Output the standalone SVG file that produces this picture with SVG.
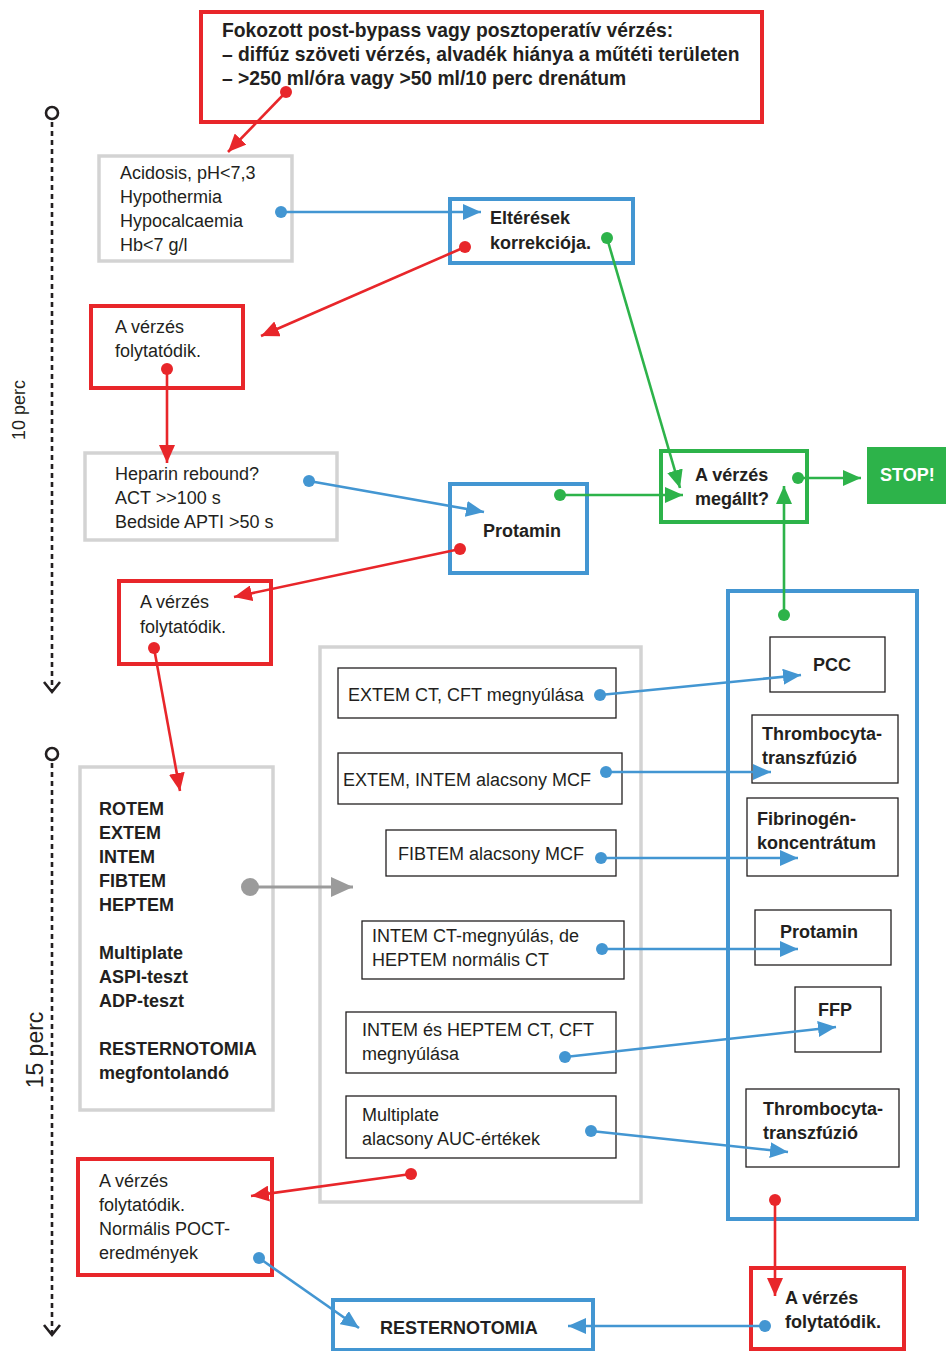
<svg xmlns="http://www.w3.org/2000/svg" width="946" height="1351" viewBox="0 0 946 1351">
<style>
text{font-family:"Liberation Sans",Arial,sans-serif;fill:#231f20;font-size:18px}
.b{font-weight:bold}
.top{font-size:19.3px}
.red{fill:#fff;stroke:#e8262a;stroke-width:4}
.blue{fill:#fff;stroke:#4396d2;stroke-width:4}
.green{fill:#fff;stroke:#2db34a;stroke-width:4}
.grey{fill:#fff;stroke:#d3d3d3;stroke-width:3.5}
.thin{fill:#fff;stroke:#231f20;stroke-width:1.3}
.cr{stroke:#e8262a;stroke-width:2.6;fill:none;marker-start:url(#dr);marker-end:url(#ar)}
.cb{stroke:#4396d2;stroke-width:2.6;fill:none;marker-start:url(#db);marker-end:url(#ab)}
.cg{stroke:#2db34a;stroke-width:2.6;fill:none;marker-start:url(#dg);marker-end:url(#ag)}
.cgr{stroke:#9b9b9b;stroke-width:3;fill:none;marker-start:url(#dgr);marker-end:url(#agr)}
.tl{stroke:#231f20;stroke-width:2.6;stroke-dasharray:5 4;fill:none}
</style>
<defs>
<marker id="ar" markerUnits="userSpaceOnUse" markerWidth="20" markerHeight="16" refX="18" refY="8" orient="auto"><path d="M0,0 L18,8 L0,16 Z" fill="#e8262a"/></marker>
<marker id="ab" markerUnits="userSpaceOnUse" markerWidth="20" markerHeight="16" refX="18" refY="8" orient="auto"><path d="M0,0 L18,8 L0,16 Z" fill="#4396d2"/></marker>
<marker id="ag" markerUnits="userSpaceOnUse" markerWidth="20" markerHeight="16" refX="18" refY="8" orient="auto"><path d="M0,0 L18,8 L0,16 Z" fill="#2db34a"/></marker>
<marker id="agr" markerUnits="userSpaceOnUse" markerWidth="24" markerHeight="20" refX="22" refY="10" orient="auto"><path d="M0,0 L22,10 L0,20 Z" fill="#9b9b9b"/></marker>
<marker id="dr" markerUnits="userSpaceOnUse" markerWidth="14" markerHeight="14" refX="7" refY="7"><circle cx="7" cy="7" r="6" fill="#e8262a"/></marker>
<marker id="db" markerUnits="userSpaceOnUse" markerWidth="14" markerHeight="14" refX="7" refY="7"><circle cx="7" cy="7" r="6" fill="#4396d2"/></marker>
<marker id="dg" markerUnits="userSpaceOnUse" markerWidth="14" markerHeight="14" refX="7" refY="7"><circle cx="7" cy="7" r="6" fill="#2db34a"/></marker>
<marker id="dgr" markerUnits="userSpaceOnUse" markerWidth="20" markerHeight="20" refX="10" refY="10"><circle cx="10" cy="10" r="9" fill="#9b9b9b"/></marker>
</defs>

<g id="timeline">
<circle cx="52" cy="113" r="6" fill="#fff" stroke="#231f20" stroke-width="2.6"/>
<line class="tl" x1="52" y1="122" x2="52" y2="690"/>
<path d="M44,682 L52,692 L60,682" fill="none" stroke="#231f20" stroke-width="2.6"/>
<text transform="translate(25,410) rotate(-90)" text-anchor="middle">10 perc</text>
<circle cx="52" cy="754" r="6" fill="#fff" stroke="#231f20" stroke-width="2.6"/>
<line class="tl" x1="52" y1="763" x2="52" y2="1333"/>
<path d="M44,1325 L52,1335 L60,1325" fill="none" stroke="#231f20" stroke-width="2.6"/>
<text transform="translate(43,1050) rotate(-90)" text-anchor="middle" style="font-size:23px">15 perc</text>
</g>

<g id="n-top"><rect class="red" x="201" y="12" width="561" height="110"/>
<text class="b top" x="222" y="37">Fokozott post-bypass vagy posztoperatív vérzés:</text>
<text class="b top" x="222" y="61">– diffúz szöveti vérzés, alvadék hiánya a műtéti területen</text>
<text class="b top" x="222" y="85">– &gt;250 ml/óra vagy &gt;50 ml/10 perc drenátum</text></g>

<g id="n-acid"><rect class="grey" x="99" y="156" width="193" height="105"/>
<text x="120" y="179">Acidosis, pH&lt;7,3</text><text x="120" y="203">Hypothermia</text><text x="120" y="227">Hypocalcaemia</text><text x="120" y="251">Hb&lt;7 g/l</text></g>

<g id="n-elt"><rect class="blue" x="450" y="199" width="183" height="64"/>
<text class="b" x="490" y="224">Eltérések</text><text class="b" x="490" y="249">korrekciója.</text></g>

<g id="n-fol1"><rect class="red" x="91" y="306" width="152" height="82"/>
<text x="115" y="333">A vérzés</text><text x="115" y="357">folytatódik.</text></g>

<g id="n-hep"><rect class="grey" x="85" y="453" width="252" height="87"/>
<text x="115" y="480">Heparin rebound?</text><text x="115" y="504">ACT &gt;&gt;100 s</text><text x="115" y="528">Bedside APTI &gt;50 s</text></g>

<g id="n-prot"><rect class="blue" x="450" y="484" width="137" height="89"/>
<text class="b" x="483" y="537">Protamin</text></g>

<g id="n-meg"><rect class="green" x="661" y="451" width="146" height="71"/>
<text class="b" x="695" y="481">A vérzés</text><text class="b" x="695" y="505">megállt?</text></g>

<g id="n-stop"><rect x="867" y="447" width="79" height="57" fill="#2db34a"/>
<text class="b" x="880" y="481" style="fill:#fff">STOP!</text></g>

<g id="n-fol2"><rect class="red" x="119" y="581" width="152" height="83"/>
<text x="140" y="608">A vérzés</text><text x="140" y="633">folytatódik.</text></g>

<g id="n-rotem"><rect class="grey" x="80" y="767" width="193" height="343"/>
<text class="b" x="99" y="815">ROTEM</text><text class="b" x="99" y="839">EXTEM</text><text class="b" x="99" y="863">INTEM</text><text class="b" x="99" y="887">FIBTEM</text><text class="b" x="99" y="911">HEPTEM</text>
<text class="b" x="99" y="959">Multiplate</text><text class="b" x="99" y="983">ASPI-teszt</text><text class="b" x="99" y="1007">ADP-teszt</text>
<text class="b" x="99" y="1055">RESTERNOTOMIA</text><text class="b" x="99" y="1079">megfontolandó</text></g>

<g id="n-mid"><rect class="grey" x="320" y="647" width="321" height="555"/>
<rect class="thin" x="338" y="668" width="278" height="50"/><text x="348" y="701">EXTEM CT, CFT megnyúlása</text>
<rect class="thin" x="338" y="753" width="284" height="51"/><text x="343" y="786">EXTEM, INTEM alacsony MCF</text>
<rect class="thin" x="386" y="830" width="230" height="46"/><text x="398" y="860">FIBTEM alacsony MCF</text>
<rect class="thin" x="362" y="921" width="262" height="58"/><text x="372" y="942">INTEM CT-megnyúlás, de</text><text x="372" y="966">HEPTEM normális CT</text>
<rect class="thin" x="346" y="1012" width="270" height="61"/><text x="362" y="1036">INTEM és HEPTEM CT, CFT</text><text x="362" y="1060">megnyúlása</text>
<rect class="thin" x="346" y="1096" width="270" height="62"/><text x="362" y="1121">Multiplate</text><text x="362" y="1145">alacsony AUC-értékek</text></g>

<g id="n-right"><rect class="blue" x="728" y="591" width="189" height="628"/>
<rect class="thin" x="770" y="637" width="115" height="55"/><text class="b" x="813" y="671">PCC</text>
<rect class="thin" x="752" y="715" width="146" height="68"/><text class="b" x="762" y="740">Thrombocyta-</text><text class="b" x="762" y="764">transzfúzió</text>
<rect class="thin" x="747" y="798" width="151" height="78"/><text class="b" x="757" y="825">Fibrinogén-</text><text class="b" x="757" y="849">koncentrátum</text>
<rect class="thin" x="755" y="910" width="136" height="55"/><text class="b" x="780" y="938">Protamin</text>
<rect class="thin" x="795" y="987" width="86" height="65"/><text class="b" x="818" y="1016">FFP</text>
<rect class="thin" x="746" y="1089" width="153" height="78"/><text class="b" x="763" y="1115">Thrombocyta-</text><text class="b" x="763" y="1139">transzfúzió</text></g>

<g id="n-fol3"><rect class="red" x="78" y="1159" width="194" height="116"/>
<text x="99" y="1187">A vérzés</text><text x="99" y="1211">folytatódik.</text><text x="99" y="1235">Normális POCT-</text><text x="99" y="1259">eredmények</text></g>

<g id="n-fol4"><rect class="red" x="751" y="1268" width="153" height="81"/>
<text class="b" x="785" y="1304">A vérzés</text><text class="b" x="785" y="1328">folytatódik.</text></g>

<g id="n-rest"><rect class="blue" x="333" y="1300" width="260" height="50"/>
<text class="b" x="380" y="1334">RESTERNOTOMIA</text></g>

<g id="connectors">
<line class="cr" x1="286" y1="92" x2="228" y2="152"/>
<line class="cb" x1="281" y1="212" x2="481" y2="212"/>
<line class="cr" x1="465" y1="247" x2="261" y2="336"/>
<line class="cg" x1="607" y1="238" x2="680" y2="488"/>
<line class="cr" x1="167" y1="369" x2="167" y2="463"/>
<line class="cb" x1="309" y1="481" x2="484" y2="512"/>
<line class="cg" x1="560" y1="495" x2="683" y2="495"/>
<line class="cr" x1="460" y1="549" x2="234" y2="597"/>
<line class="cg" x1="798" y1="478" x2="861" y2="478"/>
<line class="cg" x1="784" y1="615" x2="784" y2="486"/>
<line class="cr" x1="154" y1="648" x2="180" y2="791"/>
<line class="cgr" x1="250" y1="887" x2="353" y2="887"/>
<line class="cb" x1="600" y1="695" x2="801" y2="675"/>
<line class="cb" x1="606" y1="772" x2="771" y2="772"/>
<line class="cb" x1="601" y1="858" x2="798" y2="858"/>
<line class="cb" x1="602" y1="949" x2="798" y2="949"/>
<line class="cb" x1="565" y1="1057" x2="836" y2="1027"/>
<line class="cb" x1="591" y1="1131" x2="788" y2="1152"/>
<line class="cr" x1="411" y1="1174" x2="251" y2="1196"/>
<line class="cr" x1="775" y1="1200" x2="775" y2="1296"/>
<line class="cb" x1="765" y1="1326" x2="568" y2="1326"/>
<line class="cb" x1="259" y1="1258" x2="359" y2="1328"/>
</g>
</svg>
